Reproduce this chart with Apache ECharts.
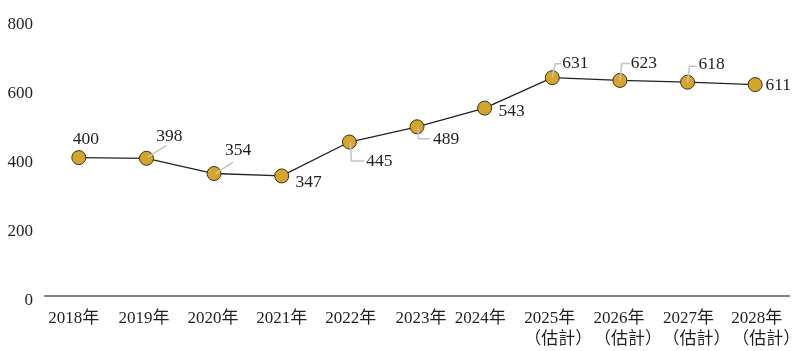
<!DOCTYPE html>
<html>
<head>
<meta charset="utf-8">
<script src="https://cdn.jsdelivr.net/npm/echarts@6/dist/echarts.min.js"></script>
<style>
html,body{margin:0;padding:0;background:#fff;}
#c{width:801px;height:351px;}
</style>
</head>
<body>
<div id="c"></div>
<script>
// ---- data ----
const categories = ['2018年','2019年','2020年','2021年','2022年','2023年','2024年','2025年\n（估計）','2026年\n（估計）','2027年\n（估計）','2028年\n（估計）'];
const values = [400, 398, 354, 347, 445, 489, 543, 631, 623, 618, 611];
const yTicks = [0, 200, 400, 600, 800];

// ---- styling (label placement relative to each point, in px) ----
const labelOffsets = [[7,-18],[23,-22],[24,-23],[27,6],[30,19],[29,13],[27,3],[23,-14],[24,-17],[24,-18],[23,1]];
const leaders = [null, [[1.5,-1.5],[20,-13]], [[1.5,0],[19,-11.5]], null,
  [[1,0],[2,19],[15,19]], [[1,0],[1.5,12],[13,12]], null,
  [[0,0],[3,-14],[9,-14]], [[0,0],[2,-17],[10,-17]], [[0,0],[2,-16],[9,-16]], null];
const line1Shift = [-5,-2.5,-1,0,1.5,4,-4.5,-2.5,-1,1,1.5];
const line2Shift = [0,0,0,0,0,0,0,6,8,9,11];

const serif = "'Liberation Serif','Times New Roman','Noto Sans CJK TC',serif";
const textColor = '#231f20';

function padFor(s) { return s < 0 ? [0, -2*s, 0, 0] : [0, 0, 0, 2*s]; }
const rich = {};
categories.forEach((c, i) => {
  rich['a' + i] = {color: textColor, fontFamily: serif, fontSize: 17, lineHeight: 21, padding: padFor(line1Shift[i])};
  rich['b' + i] = {color: textColor, fontFamily: serif, fontSize: 17, lineHeight: 21, padding: padFor(line2Shift[i])};
});

const chart = echarts.init(document.getElementById('c'), null, {renderer:'canvas'});
chart.setOption({
  animation: false,
  backgroundColor: '#fff',
  grid: {left: 45, right: 12, top: 19.2, bottom: 55, containLabel: false, outerBoundsMode: 'none'},
  xAxis: {
    type: 'category',
    boundaryGap: true,
    data: categories,
    axisLine: {lineStyle: {color: '#808080', width: 2}},
    axisTick: {show: false},
    axisLabel: {
      color: textColor, fontFamily: serif, fontSize: 17, lineHeight: 21, margin: 12, interval: 0,
      hideOverlap: false,
      formatter: function (val, idx) {
        const parts = val.split('\n');
        return parts.map((p, k) => '{' + (k === 0 ? 'a' : 'b') + idx + '|' + p + '}').join('\n');
      },
      rich: rich
    }
  },
  yAxis: {
    type: 'value',
    min: yTicks[0], max: yTicks[yTicks.length-1], interval: 200,
    axisLine: {show: false},
    axisTick: {show: false},
    splitLine: {show: false},
    axisLabel: {color: textColor, fontFamily: serif, fontSize: 17, margin: 12, verticalAlign: 'top', lineHeight: 10}
  },
  series: [
    {
      type: 'line',
      data: values,
      symbol: 'circle',
      symbolSize: 14,
      lineStyle: {color: '#222', width: 1.3},
      itemStyle: {color: '#d4a52a', borderColor: '#3a3220', borderWidth: 1},
      z: 2
    },
    {
      type: 'custom',
      coordinateSystem: 'cartesian2d',
      silent: true,
      z: 3,
      data: values.map((v, i) => [i, v]),
      renderItem: function (params, api) {
        const i = params.dataIndex;
        const p = api.coord([api.value(0), api.value(1)]);
        const children = [];
        const ld = leaders[i];
        if (ld) {
          children.push({
            type: 'polyline',
            shape: {points: ld.map(d => [p[0] + d[0], p[1] + d[1]])},
            style: {stroke: '#c4c4c4', lineWidth: 1.5, fill: null}
          });
        }
        const o = labelOffsets[i];
        children.push({
          type: 'text',
          x: p[0] + o[0], y: p[1] + o[1],
          style: {text: String(values[i]), fill: textColor, font: '17.5px ' + serif, textAlign: 'center', textVerticalAlign: 'middle'}
        });
        return {type: 'group', children: children};
      }
    }
  ]
});
</script>
</body>
</html>
